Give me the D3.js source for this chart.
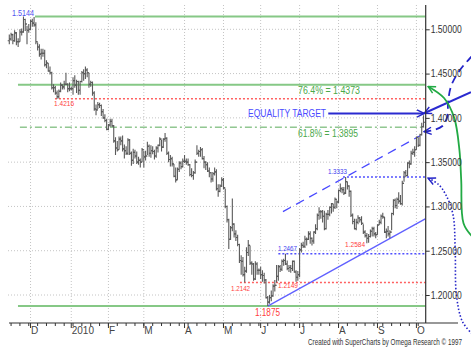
<!DOCTYPE html>
<html>
<head>
<meta charset="utf-8">
<script src="https://cdn.jsdelivr.net/npm/d3@7"></script>
<style>
  body { margin: 0; background: #fff; }
  svg { display: block; font-family: "Liberation Sans", Arial, sans-serif; }
</style>
</head>
<body>
<div id="container"></div>
<script>
const WIDTH = 471;
const HEIGHT = 351;

// daily bars, 13 Nov 2009 .. 7 Oct 2010 (weekdays)
const firstDay = new Date(2009, 10, 13);
const firstOpen = 1.4870;

const hi = [
  1.4940,1.4960,1.4950,1.4990,1.4970,1.4900,1.5000,1.5010,1.5144,1.5120,1.5040,1.5060,
  1.5110,1.5120,1.5140,1.5080,1.4850,1.4830,1.4780,1.4780,1.4770,1.4650,1.4620,1.4580,1.4520,1.4380,1.4360,1.4310,1.4320,1.4400,1.4380,1.4420,1.4510,1.4390,1.4400,
  1.4350,1.4460,1.4480,1.4430,1.4420,1.4420,1.4530,1.4550,1.4579,1.4560,1.4510,1.4420,1.4410,1.4300,1.4150,1.4180,1.4170,1.4150,1.4100,1.4040,1.3990,
  1.3930,1.3990,1.3990,1.3920,1.3780,1.3740,1.3790,1.3790,1.3800,1.3700,1.3680,1.3770,1.3760,1.3620,1.3650,1.3640,1.3620,1.3560,1.3540,1.3660,
  1.3630,1.3630,1.3730,1.3700,1.3690,1.3680,1.3640,1.3680,1.3700,1.3780,1.3750,1.3770,1.3830,1.3780,1.3620,1.3580,1.3560,1.3480,1.3440,1.3440,1.3510,1.3510,1.3540,
  1.3580,1.3540,1.3540,1.3480,1.3430,1.3400,1.3530,1.3690,1.3640,1.3670,1.3660,1.3570,1.3510,1.3500,1.3440,1.3390,1.3390,1.3440,1.3420,1.3250,1.3250,1.3330,
  1.3320,1.3200,1.3010,1.2860,1.2780,1.3090,1.2810,1.2730,1.2680,1.2580,1.2450,1.2430,1.2320,1.2540,1.2620,1.2560,1.2380,1.2360,1.2380,1.2370,1.2300,
  1.2320,1.2280,1.2250,1.2180,1.1990,1.2000,1.2050,1.2120,1.2170,1.2340,1.2340,1.2340,1.2400,1.2410,1.2467,1.2390,1.2340,1.2340,1.2390,1.2390,1.2280,1.2270,
  1.2530,1.2590,1.2600,1.2670,1.2650,1.2720,1.2720,1.2650,1.2720,1.2800,1.2920,1.2990,1.2960,1.2960,1.2950,1.2930,1.2960,1.3000,1.3040,1.3030,1.3100,1.3070,
  1.3190,1.3260,1.3220,1.3220,1.3333,1.3280,1.3240,1.3180,1.2920,1.2860,1.2860,1.2900,1.2880,1.2890,1.2800,1.2730,1.2700,1.2690,1.2740,1.2770,1.2770,1.2710,
  1.2800,1.2850,1.2910,1.2930,1.2880,1.2750,1.2780,1.2730,1.2930,1.3080,1.3090,1.3100,1.3160,1.3130,1.3290,1.3400,1.3410,1.3500,1.3520,1.3630,1.3650,1.3680,
  1.3790,1.3780,1.3820,1.3945,1.4030
];
const lo = [
  1.4830,1.4870,1.4830,1.4860,1.4820,1.4800,1.4860,1.4930,1.4960,1.4980,1.4830,1.4960,
  1.4990,1.5030,1.5030,1.4830,1.4760,1.4690,1.4660,1.4690,1.4580,1.4560,1.4520,1.4490,1.4320,1.4290,1.4260,1.4216,1.4220,1.4290,1.4320,1.4320,1.4370,1.4290,1.4300,
  1.4310,1.4260,1.4340,1.4280,1.4260,1.4260,1.4400,1.4420,1.4440,1.4460,1.4340,1.4350,1.4250,1.4080,1.4030,1.4100,1.4110,1.4020,1.3990,1.3950,1.3860,
  1.3860,1.3900,1.3900,1.3720,1.3580,1.3620,1.3640,1.3690,1.3620,1.3540,1.3580,1.3580,1.3580,1.3460,1.3480,1.3540,1.3480,1.3470,1.3440,1.3500,
  1.3440,1.3520,1.3580,1.3560,1.3550,1.3590,1.3530,1.3550,1.3610,1.3680,1.3620,1.3660,1.3730,1.3580,1.3500,1.3450,1.3450,1.3330,1.3270,1.3300,1.3390,1.3420,1.3440,
  1.3490,1.3470,1.3460,1.3340,1.3330,1.3300,1.3370,1.3580,1.3560,1.3560,1.3530,1.3430,1.3410,1.3390,1.3330,1.3270,1.3280,1.3350,1.3180,1.3110,1.3160,1.3220,
  1.3190,1.2980,1.2820,1.2520,1.2620,1.2720,1.2650,1.2610,1.2550,1.2360,1.2230,1.2210,1.2142,1.2250,1.2440,1.2340,1.2230,1.2160,1.2170,1.2230,1.2230,
  1.2180,1.2150,1.2130,1.1960,1.1875,1.1900,1.1930,1.1980,1.2040,1.2140,1.2160,1.2260,1.2270,1.2330,1.2340,1.2280,1.2260,1.2250,1.2270,1.2250,1.2149,1.2160,
  1.2200,1.2480,1.2530,1.2530,1.2560,1.2620,1.2580,1.2560,1.2580,1.2690,1.2730,1.2850,1.2860,1.2820,1.2730,1.2740,1.2850,1.2890,1.2920,1.2940,1.2970,1.2980,
  1.3040,1.3160,1.3150,1.3130,1.3140,1.3190,1.3110,1.2880,1.2800,1.2740,1.2730,1.2800,1.2820,1.2790,1.2690,1.2650,1.2584,1.2590,1.2650,1.2660,1.2660,1.2640,
  1.2680,1.2790,1.2800,1.2860,1.2700,1.2640,1.2660,1.2640,1.2730,1.2900,1.2980,1.2970,1.3030,1.3020,1.3010,1.3280,1.3330,1.3340,1.3430,1.3470,1.3580,1.3560,
  1.3640,1.3670,1.3680,1.3800,1.3890
];
const cl = [
  1.4890,1.4940,1.4870,1.4960,1.4860,1.4860,1.4970,1.4970,1.5110,1.5060,1.4990,1.5000,
  1.5090,1.5070,1.5050,1.4860,1.4800,1.4720,1.4730,1.4730,1.4600,1.4620,1.4530,1.4510,1.4340,1.4340,1.4280,1.4240,1.4300,1.4370,1.4350,1.4380,1.4380,1.4330,1.4330,
  1.4330,1.4420,1.4370,1.4410,1.4310,1.4410,1.4510,1.4500,1.4540,1.4510,1.4380,1.4400,1.4280,1.4100,1.4090,1.4150,1.4140,1.4070,1.4000,1.3970,1.3870,
  1.3920,1.3960,1.3910,1.3740,1.3660,1.3640,1.3760,1.3740,1.3650,1.3630,1.3600,1.3750,1.3600,1.3520,1.3610,1.3570,1.3500,1.3520,1.3500,1.3640,
  1.3560,1.3570,1.3680,1.3600,1.3630,1.3620,1.3570,1.3660,1.3690,1.3760,1.3670,1.3760,1.3770,1.3600,1.3530,1.3540,1.3480,1.3340,1.3300,1.3420,1.3490,1.3450,1.3510,
  1.3510,1.3500,1.3470,1.3360,1.3350,1.3380,1.3500,1.3600,1.3620,1.3640,1.3540,1.3500,1.3470,1.3400,1.3380,1.3310,1.3370,1.3390,1.3200,1.3170,1.3230,1.3300,
  1.3210,1.3000,1.2850,1.2630,1.2760,1.2800,1.2690,1.2650,1.2570,1.2390,1.2380,1.2230,1.2270,1.2480,1.2560,1.2360,1.2350,1.2180,1.2350,1.2280,1.2280,
  1.2230,1.2220,1.2170,1.1970,1.1920,1.1970,1.1990,1.2100,1.2110,1.2210,1.2320,1.2290,1.2380,1.2390,1.2350,1.2300,1.2310,1.2300,1.2380,1.2260,1.2200,1.2230,
  1.2510,1.2560,1.2550,1.2630,1.2630,1.2690,1.2640,1.2610,1.2710,1.2750,1.2900,1.2940,1.2940,1.2890,1.2750,1.2910,1.2910,1.2990,1.3030,1.2990,1.3080,1.3050,
  1.3180,1.3200,1.3190,1.3150,1.3280,1.3230,1.3170,1.2900,1.2830,1.2750,1.2820,1.2870,1.2850,1.2810,1.2710,1.2670,1.2640,1.2660,1.2720,1.2750,1.2690,1.2680,
  1.2790,1.2820,1.2890,1.2880,1.2710,1.2720,1.2690,1.2710,1.2920,1.3070,1.3010,1.3080,1.3060,1.3030,1.3260,1.3380,1.3350,1.3490,1.3480,1.3600,1.3610,1.3640,
  1.3780,1.3690,1.3810,1.3900,1.3950
];

const priceTicks = [1.20, 1.25, 1.30, 1.35, 1.40, 1.45, 1.50];
const monthNames = ["J","F","M","A","M","J","J","A","S","O","N","D"];

// retracement levels (swing high, swing low, fib levels)
const swingHigh = 1.5144, swingLow = 1.1875;
const fib764 = 1.4373, fib618 = 1.3895;
const equalityTarget = 1.4050;
const redLevels = [1.4216, 1.2142];
const blueLevels = [1.3333, 1.2467];
// channel: [bar index, price]
const channelLow = [[146, 1.1875], [235, 1.2860]];
const channelHigh = [[154.6, 1.2941], [232, 1.3798]];

var tradingDays = function (n) {
    var out = [], d = new Date(firstDay);
    while (out.length < n) {
        if (d.getDay() !== 0 && d.getDay() !== 6) out.push(new Date(d));
        d.setDate(d.getDate() + 1);
    }
    return out;
};

var translate = function (x, y) { return "translate(" + x + "," + y + ")"; };

var createChart = function () {
    var dates = tradingDays(hi.length);
    var bars = dates.map(function (d, i) {
        return {i: i, date: d, o: i ? cl[i - 1] : firstOpen, h: hi[i], l: lo[i], c: cl[i]};
    });

    var x = d3.scaleLinear().domain([0, 234]).range([9.3, 423.5]);
    var y = d3.scaleLinear().domain([1.2, 1.5]).range([295, 29.3]);
    var AXIS_X = 425.7, AXIS_Y = 323, TOP = 5;

    var svg = d3.select("#container").append("svg")
        .attr("width", WIDTH).attr("height", HEIGHT);

    var defs = svg.append("defs");
    function marker(id, color) {
        defs.append("marker").attr("id", id)
            .attr("viewBox", "0 0 10 10").attr("refX", 9).attr("refY", 5)
            .attr("markerWidth", 9).attr("markerHeight", 9)
            .attr("markerUnits", "userSpaceOnUse")
            .attr("orient", "auto")
            .append("path").attr("d", "M1,1 L9,5 L1,9")
            .attr("fill", "none").attr("stroke", color).attr("stroke-width", 1.6);
    }
    marker("arBlue", "#2424c8");
    marker("arGreen", "#22aa44");

    // grid
    var monthStarts = bars.filter(function (b, i) {
        return i > 0 && b.date.getMonth() !== bars[i - 1].date.getMonth();
    });
    svg.append("g").selectAll("line").data(priceTicks).enter().append("line")
        .attr("x1", 8).attr("x2", AXIS_X)
        .attr("y1", function (d) { return y(d); }).attr("y2", function (d) { return y(d); })
        .attr("stroke", "#c4c4c4").attr("stroke-dasharray", "1,2");
    svg.append("g").selectAll("line").data(monthStarts).enter().append("line")
        .attr("x1", function (d) { return x(d.i); }).attr("x2", function (d) { return x(d.i); })
        .attr("y1", TOP).attr("y2", AXIS_Y)
        .attr("stroke", "#c4c4c4").attr("stroke-dasharray", "1,2");

    // horizontal levels
    var g = svg.append("g");
    function hline(p, i0, color, w, dash) {
        g.append("line").attr("x1", x(i0)).attr("x2", AXIS_X)
            .attr("y1", y(p)).attr("y2", y(p))
            .attr("stroke", color).attr("stroke-width", w)
            .attr("stroke-dasharray", dash || null);
    }
    hline(swingHigh, 14.5, "#86c886", 2);
    hline(fib764, 4.9, "#86c886", 2);
    hline(swingLow, 4.9, "#86c886", 2);
    hline(fib618, 6, "#5aab5a", 1, "7,3,2,3");
    hline(redLevels[0], 25.8, "#ff6060", 1.5, "2,2");
    hline(redLevels[1], 130.3, "#ff6060", 1.5, "2,2");
    hline(blueLevels[0], 188.5, "#5050ff", 1.5, "2,2");
    hline(blueLevels[1], 152, "#5050ff", 1.5, "2,2");

    // channel
    var line = d3.line().x(function (d) { return x(d[0]); }).y(function (d) { return y(d[1]); });
    g.append("path").attr("d", line(channelLow)).attr("fill", "none")
        .attr("stroke", "#6060ff").attr("stroke-width", 1.3);
    g.append("path").attr("d", line(channelHigh)).attr("fill", "none")
        .attr("stroke", "#4848ff").attr("stroke-width", 1.3).attr("stroke-dasharray", "9,6");

    // price bars
    var b = svg.append("g").attr("stroke", "#5a5a5a").attr("stroke-width", 1.1);
    b.selectAll("path").data(bars).enter().append("path")
        .attr("d", function (d) {
            var px = x(d.i);
            return "M" + px + "," + y(d.h) + "V" + y(d.l) +
                "M" + (px - 1.6) + "," + y(d.o) + "H" + px +
                "M" + px + "," + y(d.c) + "H" + (px + 1.6);
        });

    // equality target arrow
    g.append("path").attr("d", line([[180.2, equalityTarget], [234.4, equalityTarget]]))
        .attr("stroke", "#2a2ad0").attr("stroke-width", 2).attr("fill", "none")
        .attr("marker-end", "url(#arBlue)");

    // right side annotations
    var curve = d3.line().x(function (d) { return x(d[0]); }).y(function (d) { return y(d[1]); })
        .curve(d3.curveCatmullRom);
    svg.append("path").attr("d", line([[260.8, 1.4291], [234.4, 1.4052]]))
        .attr("stroke", "#2a2ad0").attr("stroke-width", 2).attr("fill", "none")
        .attr("marker-end", "url(#arBlue)");
    svg.append("path")
        .attr("d", curve([[261.5, 1.4700], [254.6, 1.4540], [249.6, 1.4360], [247.9, 1.4178],
            [247.4, 1.4009], [244.5, 1.3905], [239.5, 1.3862], [234.4, 1.3845]]))
        .attr("stroke", "#2424c8").attr("stroke-width", 1.8).attr("fill", "none")
        .attr("stroke-dasharray", "8,5").attr("marker-end", "url(#arBlue)");
    svg.append("path")
        .attr("d", curve([[261.5, 1.2660], [256.6, 1.2810], [255.3, 1.3298], [254.3, 1.3636],
            [251.4, 1.3997], [245.6, 1.4224], [236.6, 1.4355]]))
        .attr("stroke", "#22aa44").attr("stroke-width", 1.8).attr("fill", "none")
        .attr("marker-end", "url(#arGreen)");
    svg.append("path")
        .attr("d", curve([[261.5, 1.1560], [256.0, 1.1700], [252.6, 1.2000], [251.9, 1.2508],
            [250.7, 1.2904], [246.7, 1.3129], [242.2, 1.3253], [236.6, 1.3318]]))
        .attr("stroke", "#2424c8").attr("stroke-width", 1.6).attr("fill", "none")
        .attr("stroke-dasharray", "1.5,2").attr("marker-end", "url(#arBlue)");

    // labels [text, bar index, price, width, size, colour]
    var labels = [
        ["1.5144", 1.5, 1.5145, 22, 9.5, "#5050f0"],
        ["1.4216", 25.3, 1.4134, 20, 8, "#ff4040"],
        ["76.4% = 1.4373", 163.1, 1.4269, 62, 10, "#4aa84a"],
        ["EQUALITY TARGET", 134.9, 1.4010, 78, 10, "#4a4aff"],
        ["61.8% = 1.3895", 163.1, 1.3785, 60, 10, "#4aa84a"],
        ["1.3333", 180.0, 1.3366, 19, 7.5, "#4040f0"],
        ["1.2467", 151.8, 1.2497, 19, 7.5, "#4040f0"],
        ["1.2584", 189.7, 1.2542, 20, 7.5, "#ff4040"],
        ["1.2142", 125.3, 1.2045, 19, 7.5, "#ff4040"],
        ["1.2149", 151.8, 1.2079, 20, 7.5, "#ff4040"],
        ["1.1875", 138.8, 1.1763, 25, 10, "#ff4040"]
    ];
    svg.append("g").selectAll("text").data(labels).enter().append("text")
        .attr("x", function (d) { return x(d[1]); })
        .attr("y", function (d) { return y(d[2]); })
        .attr("textLength", function (d) { return d[3]; })
        .attr("lengthAdjust", "spacingAndGlyphs")
        .attr("font-size", function (d) { return d[4]; })
        .attr("fill", function (d) { return d[5]; })
        .text(function (d) { return d[0]; });

    // y axis
    var yAxis = d3.axisRight(y).tickValues(priceTicks).tickFormat(d3.format(".5f")).tickSize(4);
    var ya = svg.append("g").attr("transform", translate(AXIS_X, 0)).call(yAxis);
    ya.select(".domain").remove();
    ya.selectAll("line").attr("stroke", "#333");
    ya.selectAll("text").attr("x", 5).attr("font-size", 10.5)
        .attr("font-family", "Liberation Sans, Arial, sans-serif").attr("fill", "#333")
        .attr("textLength", 31).attr("lengthAdjust", "spacingAndGlyphs");
    svg.append("line").attr("x1", AXIS_X).attr("x2", AXIS_X).attr("y1", TOP).attr("y2", AXIS_Y)
        .attr("stroke", "#333").attr("stroke-width", 1.2);

    // x axis
    svg.append("line").attr("x1", 9).attr("x2", 458).attr("y1", AXIS_Y).attr("y2", AXIS_Y)
        .attr("stroke", "#333").attr("stroke-width", 1.2);
    var mondays = bars.filter(function (d) { return d.date.getDay() === 1; });
    svg.append("g").selectAll("line").data(mondays).enter().append("line")
        .attr("x1", function (d) { return x(d.i); }).attr("x2", function (d) { return x(d.i); })
        .attr("y1", AXIS_Y).attr("y2", AXIS_Y + 3).attr("stroke", "#333");
    svg.append("g").selectAll("line").data(monthStarts).enter().append("line")
        .attr("x1", function (d) { return x(d.i); }).attr("x2", function (d) { return x(d.i); })
        .attr("y1", AXIS_Y).attr("y2", AXIS_Y + 5).attr("stroke", "#333");
    svg.append("g").selectAll("text").data(monthStarts).enter().append("text")
        .attr("x", function (d) { return x(d.i) + 0.5; })
        .attr("y", AXIS_Y + 10.5)
        .attr("font-size", 10).attr("fill", "#444")
        .text(function (d) {
            return d.date.getMonth() === 0 ? String(d.date.getFullYear()) : monthNames[d.date.getMonth()];
        });

    svg.append("text").attr("x", 308).attr("y", 345)
        .attr("font-size", 8.5).attr("fill", "#333")
        .attr("textLength", 154).attr("lengthAdjust", "spacingAndGlyphs")
        .text("Created with SuperCharts by Omega Research \u00a9 1997");
};

window.onload = createChart;
</script>
</body>
</html>
